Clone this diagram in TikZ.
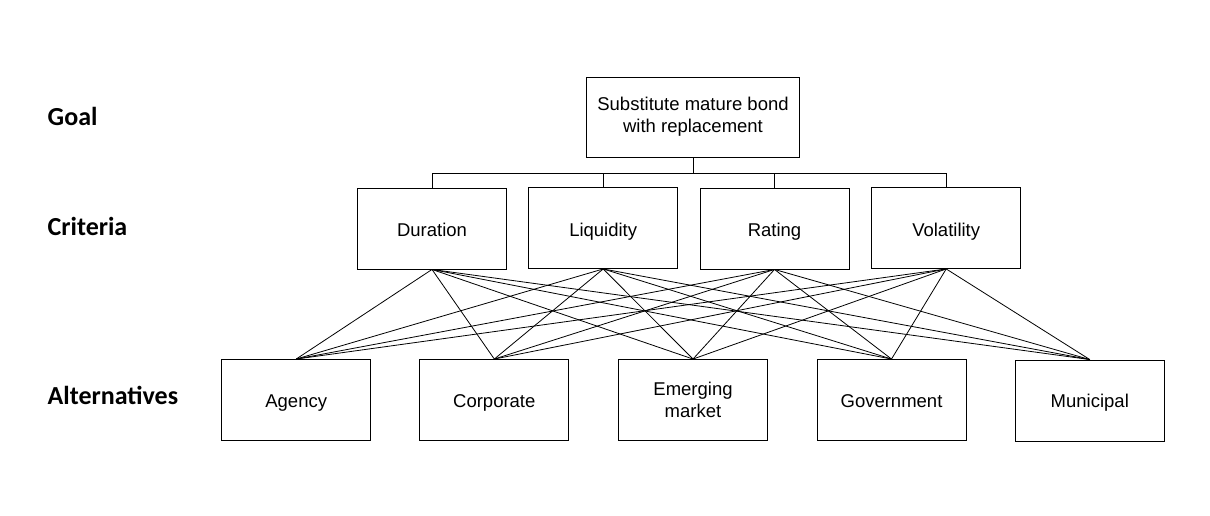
\documentclass[tikz,border=0pt]{standalone}
\usepackage{fontspec}
\setmainfont{Liberation Sans}
\newfontfamily\labelfont{Carlito}
\begin{document}
\begin{tikzpicture}[x=1pt,y=-1pt,
  box/.style={draw=black,line width=0.9pt,inner sep=0pt,align=center,
    font=\fontsize{18.5}{22}\selectfont},
  goalbox/.style={box,minimum width=213pt,minimum height=80pt},
  critbox/.style={box,minimum width=149pt,minimum height=81pt,
    text height=17pt,text depth=0.4pt},
  altbox/.style={box,minimum width=149pt,minimum height=81pt},
  altone/.style={altbox,text height=15pt,text depth=1pt},
  levellabel/.style={anchor=base west,inner sep=0pt,
    font=\labelfont\bfseries\fontsize{26}{30}\selectfont},
  link/.style={draw=black,line width=0.8pt}
]
\useasboundingbox (0,0) rectangle (1210,516);

\node[levellabel] (lgoal) at (47.5,126) {Goal};
\node[levellabel] (lcrit) at (47.5,235) {Criteria};
\node[levellabel] (lalt) at (47.5,404) {Alternatives};

\node[goalbox] (goal) at (693,117) {Substitute mature bond\\with replacement};

\node[critbox] (c1) at (432,228.5) {Duration};
\node[critbox] (c2) at (603.2,228) {Liquidity};
\node[critbox] (c3) at (774.5,228.5) {Rating};
\node[critbox] (c4) at (946.2,228) {Volatility};

\node[altone] (a1) at (296.2,400) {Agency};
\node[altone] (a2) at (494.3,400) {Corporate};
\node[altbox] (a3) at (693,400) {Emerging\\market};
\node[altone] (a4) at (891.5,400) {Government};
\node[altone] (a5) at (1089.8,400.5) {Municipal};

\coordinate (bar) at (693,173.3);
\foreach \c in {c1,c2,c3,c4}{
  \draw[link] (goal.south) -- (bar) -| (\c.north);
}

\foreach \c in {c1,c2,c3,c4}{
  \foreach \a in {a1,a2,a3,a4,a5}{
    \draw[link] (\c.south) -- (\a.north);
  }
}
\end{tikzpicture}
\end{document}
